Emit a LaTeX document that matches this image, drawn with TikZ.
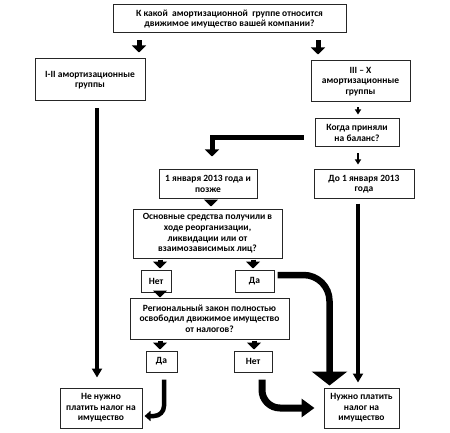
\documentclass[tikz,border=0pt]{standalone}
\usepackage{fontspec}
\setmainfont{Carlito}
\usepackage{tikz}
\usetikzlibrary{arrows.meta}

\tikzset{
  box/.style={draw=black!85, line width=1pt, align=center, inner sep=1pt,
    font=\fontsize{9.5}{10.6}\selectfont\bfseries},
  fat/.style={line width=5pt, -{Triangle[width=14pt,length=7pt]}},
  slim/.style={line width=2pt, -{Triangle[width=6pt,length=5pt]}},
  pole/.style={line width=4pt, -{Triangle[width=10pt,length=9pt]}},
  curl/.style={line width=6.5pt, -{Triangle[width=35pt,length=14pt]}}
}

\begin{document}
\begin{tikzpicture}[x=1pt, y=-1pt]
  \useasboundingbox (0,0) rectangle (450,433);
  \node[box, minimum width=233pt, minimum height=28pt] (top) at (229.5,19)
    {К какой \ амортизационной \ группе относится\\движимое имущество вашей компании?};
  \node[box, minimum width=110pt, minimum height=42pt] (gr12) at (90,80)
    {I-II амортизационные\\группы};
  \node[box, minimum width=99pt, minimum height=41pt] (gr3x) at (360.5,81.5)
    {III – X\\амортизационные\\группы};
  \node[box, minimum width=84pt, minimum height=28pt] (when) at (357,133)
    {Когда приняли\\на баланс?};
  \node[box, minimum width=98pt, minimum height=28pt] (after) at (208,184)
    {1 января 2013 года и\\позже};
  \node[box, minimum width=100pt, minimum height=28pt] (before) at (364,184)
    {До 1 января 2013\\года};
  \node[box, minimum width=149pt, minimum height=49pt] (reorg) at (207.5,233.5)
    {Основные средства получили в\\ходе реорганизации,\\ликвидации или от\\взаимозависимых лиц?};
  \node[box, minimum width=30pt, minimum height=22pt] (no1) at (156,281) {Нет};
  \node[box, minimum width=39pt, minimum height=22pt] (yes1) at (254.5,281) {Да};
  \node[box, minimum width=159pt, minimum height=41pt] (law) at (209.5,318.5)
    {Региональный закон полностью\\освободил движимое имущество\\от налогов?};
  \node[box, minimum width=31pt, minimum height=21pt] (yes2) at (161.5,361.5) {Да};
  \node[box, minimum width=38pt, minimum height=21pt] (no2) at (253,361.5) {Нет};
  \node[box, minimum width=82pt, minimum height=40pt] (free) at (101,408)
    {Не нужно\\платить налог на\\имущество};
  \node[box, minimum width=75pt, minimum height=40pt] (pay) at (361.5,408)
    {Нужно платить\\налог на\\имущество};

  \draw[fat, shorten <=7pt, shorten >=6pt] ([xshift=-90.5pt]top.south) -- ([xshift=49pt]gr12.north);
  \draw[fat, shorten <=7pt, shorten >=6pt] ([xshift=88.5pt]top.south) -- ([xshift=-42.5pt]gr3x.north);
  \draw[slim, shorten <=5pt, shorten >=4pt] ([xshift=-2.5pt]gr3x.south) -- ([xshift=1pt]when.north);
  \draw[fat, shorten >=13pt] ([xshift=-11pt,yshift=-5pt]when.west) -| ([xshift=4pt]after.north);
  \draw[slim, shorten <=6pt, shorten >=5pt] ([xshift=1pt]when.south) -- ([xshift=-6pt]before.north);
  \draw[pole, shorten <=7pt, shorten >=10pt] ([xshift=7pt]gr12.south) -- ([xshift=-4pt]free.north);
  \draw[fat, shorten <=1pt, shorten >=2pt] ([xshift=3pt]after.south) -- ([xshift=3.5pt]reorg.north);
  \draw[fat, shorten <=1pt, shorten >=1pt] ([xshift=-47.5pt]reorg.south) -- ([xshift=4pt]no1.north);
  \draw[fat, shorten <=1pt, shorten >=1pt] ([xshift=45.5pt]reorg.south) -- ([xshift=-1.5pt]yes1.north);
  \draw[fat] ([xshift=4pt]no1.south) -- ([xshift=-49.5pt]law.north);
  \draw[curl, rounded corners=26pt, shorten >=2pt] ([xshift=3pt,yshift=6pt]yes1.east) -| ([xshift=-32pt]pay.north);
  \draw[pole, shorten <=5pt, shorten >=5pt] ([xshift=-6pt]before.south) -- ([xshift=-3.5pt]pay.north);
  \draw[fat, shorten <=1pt, shorten >=1pt] ([xshift=-49.5pt]law.south) -- ([xshift=-1.5pt]yes2.north);
  \draw[fat, shorten <=1pt, shorten >=1pt] ([xshift=44.5pt]law.south) -- ([xshift=1pt]no2.north);
  \draw[line width=4.5pt, -{Triangle[width=10pt,length=6pt]}, rounded corners=10pt, shorten <=7pt, shorten >=2pt]
    ([xshift=2.5pt]yes2.south) |- ([yshift=-8pt]free.east);
  \draw[line width=7pt, -{Triangle[width=18pt,length=13pt]}, rounded corners=18pt, shorten <=7pt, shorten >=9pt]
    ([xshift=9pt]no2.south) |- (pay.west);
\end{tikzpicture}
\end{document}
